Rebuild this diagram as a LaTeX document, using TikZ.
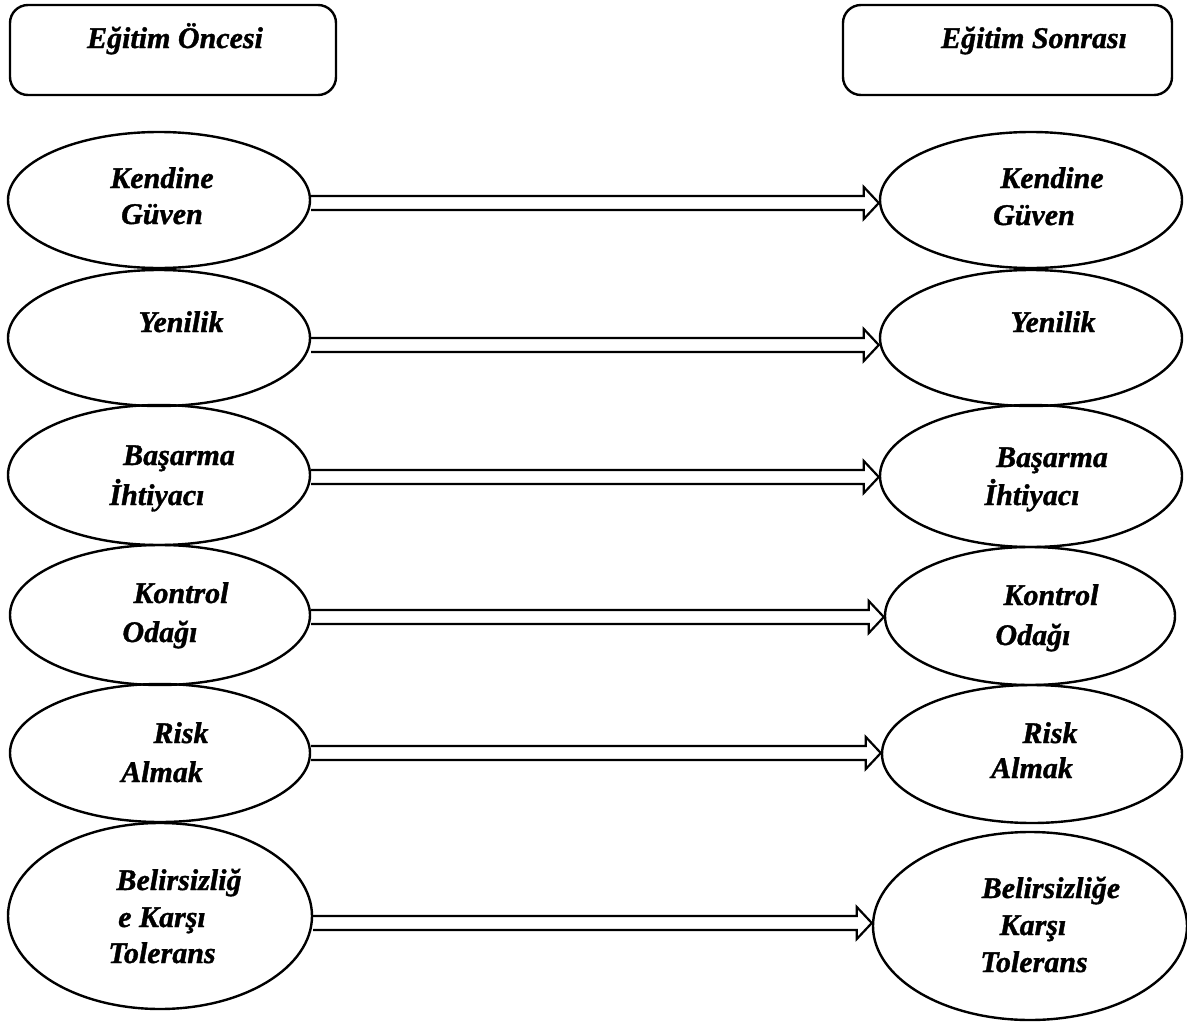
\documentclass[tikz,border=0pt]{standalone}
\usepackage{fontspec}
\setmainfont{Liberation Serif}[BoldItalicFeatures={FakeBold=1.2}]
\usetikzlibrary{shapes.geometric,calc}
\newcommand\hollowarr[3]{%
  \draw[arr] ($(#1.east |- #3)+(0,-7)$) -- ($(#2.west |- #3)+(-15,-7)$)
    -- ($(#2.west |- #3)+(-15,-16)$) -- (#2.west |- #3)
    -- ($(#2.west |- #3)+(-15,16)$) -- ($(#2.west |- #3)+(-15,7)$)
    -- ($(#1.east |- #3)+(0,7)$);}
\begin{document}
\begin{tikzpicture}[x=1pt,y=-1pt,
  ell/.style={draw, ellipse, line width=2.4pt, inner sep=0pt},
  box/.style={draw, rectangle, rounded corners=18pt, line width=2.4pt, inner sep=0pt},
  lbl/.style={anchor=base, inner sep=0pt, font=\fontsize{30}{36}\selectfont\bfseries\itshape},
  arr/.style={line width=2.2pt, line join=miter}]
\useasboundingbox (0,0) rectangle (1187,1023);

% header boxes
\node[box, minimum width=326pt, minimum height=90pt] (B1) at (173,50) {};
\node[box, minimum width=329pt, minimum height=90pt] (B2) at (1007.5,50) {};
\node[lbl] (B1t) at (175,48) {Eğitim Öncesi};
\node[lbl] (B2t) at (1034,48) {Eğitim Sonrası};

% left ellipses
\node[ell, minimum width=302pt, minimum height=136pt] (L1) at (159,200) {};
\node[ell, minimum width=302pt, minimum height=136pt] (L2) at (159,338) {};
\node[ell, minimum width=302pt, minimum height=140pt] (L3) at (159,475) {};
\node[ell, minimum width=300pt, minimum height=140pt] (L4) at (160,615) {};
\node[ell, minimum width=300pt, minimum height=138pt] (L5) at (160,753) {};
\node[ell, minimum width=304pt, minimum height=186pt] (L6) at (160,916) {};

% right ellipses
\node[ell, minimum width=302pt, minimum height=136pt] (R1) at (1031,200) {};
\node[ell, minimum width=302pt, minimum height=136pt] (R2) at (1031,338) {};
\node[ell, minimum width=302pt, minimum height=142pt] (R3) at (1031,476) {};
\node[ell, minimum width=290pt, minimum height=138pt] (R4) at (1030,616) {};
\node[ell, minimum width=300pt, minimum height=138pt] (R5) at (1032,754) {};
\node[ell, minimum width=314pt, minimum height=188pt] (R6) at (1030,926) {};

% left labels
\node[lbl] (L1a) at (162,188) {Kendine};
\node[lbl] (L1b) at (162,224) {Güven};
\node[lbl] (L2a) at (181,332) {Yenilik};
\node[lbl] (L3a) at (179,465) {Başarma};
\node[lbl] (L3b) at (157,505) {İhtiyacı};
\node[lbl] (L4a) at (181,603) {Kontrol};
\node[lbl] (L4b) at (160,642) {Odağı};
\node[lbl] (L5a) at (181,743) {Risk};
\node[lbl] (L5b) at (162,782) {Almak};
\node[lbl] (L6a) at (179,890) {Belirsizliğ};
\node[lbl] (L6b) at (162,927) {e Karşı};
\node[lbl] (L6c) at (162,963) {Tolerans};

% right labels
\node[lbl] (R1a) at (1052,188) {Kendine};
\node[lbl] (R1b) at (1034,225) {Güven};
\node[lbl] (R2a) at (1053,332) {Yenilik};
\node[lbl] (R3a) at (1052,467) {Başarma};
\node[lbl] (R3b) at (1032,505) {İhtiyacı};
\node[lbl] (R4a) at (1051,605) {Kontrol};
\node[lbl] (R4b) at (1033,645) {Odağı};
\node[lbl] (R5a) at (1050,743) {Risk};
\node[lbl] (R5b) at (1032,778) {Almak};
\node[lbl] (R6a) at (1051,898) {Belirsizliğe};
\node[lbl] (R6b) at (1033,935) {Karşı};
\node[lbl] (R6c) at (1034,972) {Tolerans};

% arrow rows
\coordinate (y1) at (0,203);
\coordinate (y2) at (0,345);
\coordinate (y3) at (0,477);
\coordinate (y4) at (0,617);
\coordinate (y5) at (0,753);
\coordinate (y6) at (0,923);
\hollowarr{L1}{R1}{y1}
\hollowarr{L2}{R2}{y2}
\hollowarr{L3}{R3}{y3}
\hollowarr{L4}{R4}{y4}
\hollowarr{L5}{R5}{y5}
\hollowarr{L6}{R6}{y6}
\end{tikzpicture}
\end{document}
